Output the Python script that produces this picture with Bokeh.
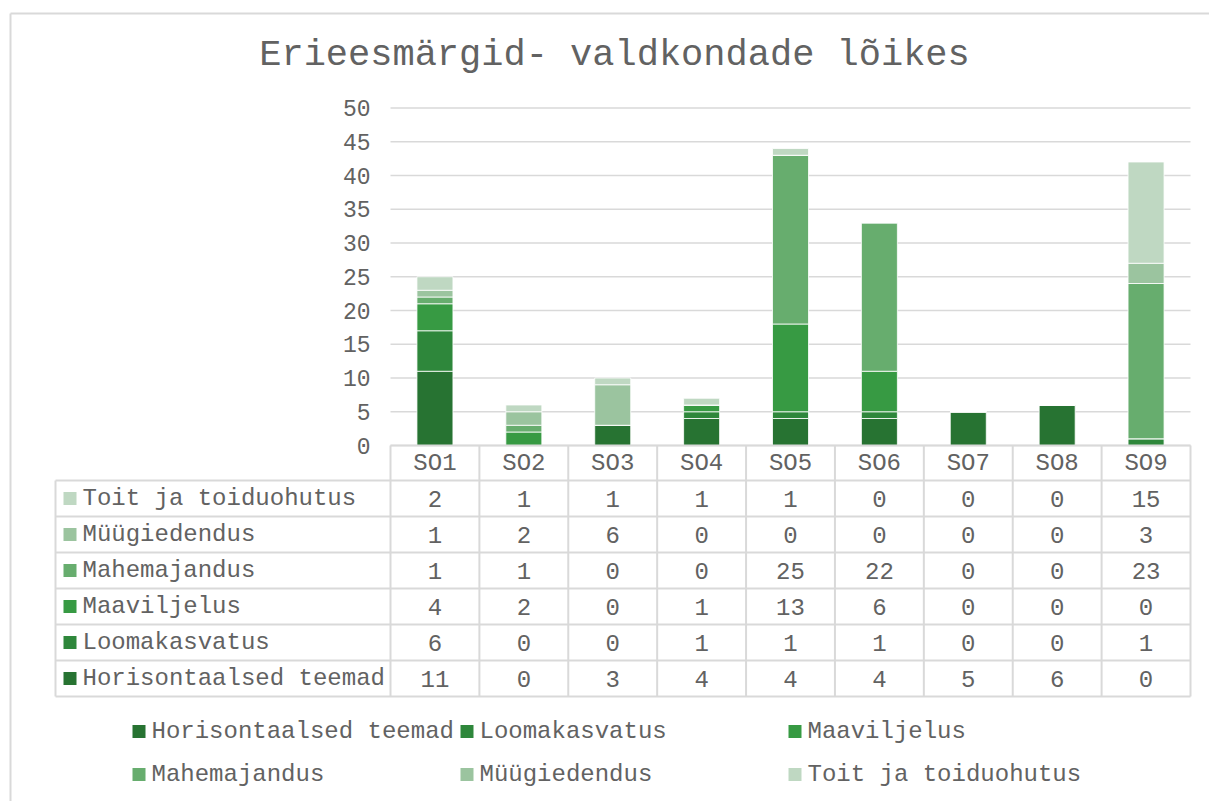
from bokeh.plotting import figure
from bokeh.models import Range1d, ColumnDataSource
from bokeh.embed import file_html
from bokeh.resources import INLINE
from bokeh.core.properties import value

# ---------------- data ----------------
title_text = "Erieesmärgid- valdkondade lõikes"
categories = ["SO1", "SO2", "SO3", "SO4", "SO5", "SO6", "SO7", "SO8", "SO9"]
series_names = ["Horisontaalsed teemad", "Loomakasvatus", "Maaviljelus",
                "Mahemajandus", "Müügiedendus", "Toit ja toiduohutus"]
horisontaalsed = [11, 0, 3, 4, 4, 4, 5, 6, 0]
loomakasvatus = [6, 0, 0, 1, 1, 1, 0, 0, 1]
maaviljelus = [4, 2, 0, 1, 13, 6, 0, 0, 0]
mahemajandus = [1, 1, 0, 0, 25, 22, 0, 0, 23]
myygiedendus = [1, 2, 6, 0, 0, 0, 0, 0, 3]
toit = [2, 1, 1, 1, 1, 0, 0, 0, 15]
series_colors = ["#277332", "#2E873B", "#379A43", "#67AD6E", "#9BC49F", "#BFD8C2"]
y_ticks = [0, 5, 10, 15, 20, 25, 30, 35, 40, 45, 50]

series_values = [horisontaalsed, loomakasvatus, maaviljelus, mahemajandus, myygiedendus, toit]

# ---------------- geometry (page pixels) ----------------
OFF = 0
W, H = 1209, 801
PLOT_L, PLOT_R = 390, 1190
Y0_PX, YMAX_PX = 445, 107.5
YMAX = 50
n = len(categories)
unit = (PLOT_R - PLOT_L) / n
ppu = (Y0_PX - YMAX_PX) / YMAX

x_start = (OFF - PLOT_L) / unit
x_end = (OFF + W - PLOT_L) / unit
y_end = (Y0_PX - OFF) / ppu
y_start = (Y0_PX - (OFF + H)) / ppu

FONT = value("Liberation Mono")
TXT = "#626262"
GRID = "#D9D9D9"

p = figure(width=W, height=H, output_backend="svg", toolbar_location=None,
           x_range=Range1d(x_start, x_end), y_range=Range1d(y_start, y_end),
           x_axis_type=None, y_axis_type=None, min_border=0)
p.extra_x_ranges = {"px": Range1d(OFF, OFF + W)}
p.extra_y_ranges = {"px": Range1d(OFF + H, OFF)}
p.outline_line_color = None
p.xgrid.visible = False
p.ygrid.visible = False
p.background_fill_color = "white"
p.border_fill_color = "white"

# chart border (top & left visible)
p.segment(x0=[10, 10], y0=[13, 13], x1=[OFF + W, 10], y1=[13, OFF + H],
          x_range_name="px", y_range_name="px", line_color=GRID, line_width=2)

# title
p.text(x=[614], y=[54], text=[title_text], x_range_name="px", y_range_name="px",
       text_font=FONT, text_font_size="37px", text_color=TXT,
       text_align="center", text_baseline="middle")

# horizontal gridlines
p.segment(x0=[0] * len(y_ticks), x1=[n] * len(y_ticks), y0=y_ticks, y1=y_ticks,
          line_color=GRID, line_width=1.5)

# y tick labels
p.text(x=[370] * len(y_ticks), y=y_ticks, text=[str(t) for t in y_ticks],
       x_range_name="px", text_font=FONT, text_font_size="23px", text_color=TXT,
       text_align="right", text_baseline="middle")

# stacked bars
keys = ["s%d" % i for i in range(len(series_names))]
data = {"x": [i + 0.5 for i in range(n)], "cat": categories}
for k, vals in zip(keys, series_values):
    data[k] = vals
src = ColumnDataSource(data)
p.vbar_stack(keys, x="x", width=0.405, color=series_colors, source=src,
             line_color="white", line_width=0.8)

# ---------------- data table ----------------
HDR_TOP, HDR_BOT = 445, 480
ROW_H = 36
TBL_L = 55
rows = len(series_names)
row_lines = [HDR_BOT + ROW_H * r for r in range(rows + 1)]
tbl_bot = row_lines[-1]

# horizontal lines
p.segment(x0=[PLOT_L], x1=[PLOT_R], y0=[HDR_TOP], y1=[HDR_TOP],
          x_range_name="px", y_range_name="px", line_color=GRID, line_width=2)
p.segment(x0=[TBL_L] * len(row_lines), x1=[PLOT_R] * len(row_lines),
          y0=row_lines, y1=row_lines,
          x_range_name="px", y_range_name="px", line_color=GRID, line_width=2)
# vertical lines
p.segment(x0=list(range(n + 1)), x1=list(range(n + 1)),
          y0=[HDR_TOP] * (n + 1), y1=[tbl_bot] * (n + 1),
          y_range_name="px", line_color=GRID, line_width=2)
p.segment(x0=[TBL_L], x1=[TBL_L], y0=[HDR_BOT], y1=[tbl_bot],
          x_range_name="px", y_range_name="px", line_color=GRID, line_width=2)

# header labels
p.text(x=[i + 0.5 for i in range(n)], y=[(HDR_TOP + HDR_BOT) / 2] * n, text=categories,
       y_range_name="px", text_font=FONT, text_font_size="24px", text_color=TXT,
       text_align="center", text_baseline="middle")

# rows (top row = last series)
for r in range(rows):
    si = rows - 1 - r
    cy = HDR_BOT + ROW_H * r + ROW_H / 2
    p.rect(x=[69.5], y=[cy], width=13, height=13, x_range_name="px", y_range_name="px",
           fill_color=series_colors[si], line_color=None)
    p.text(x=[82], y=[cy], text=[series_names[si]], x_range_name="px", y_range_name="px",
           text_font=FONT, text_font_size="24px", text_color=TXT,
           text_align="left", text_baseline="middle")
    p.text(x=[i + 0.5 for i in range(n)], y=[cy] * n, text=[str(v) for v in series_values[si]],
           y_range_name="px", text_font=FONT, text_font_size="24px", text_color=TXT,
           text_align="center", text_baseline="middle")

# ---------------- legend ----------------
leg_x = [132, 460, 788]
leg_y = [731, 774]
for idx, name in enumerate(series_names):
    lx = leg_x[idx % 3]
    ly = leg_y[idx // 3]
    p.rect(x=[lx + 6.5], y=[ly], width=13, height=13, x_range_name="px", y_range_name="px",
           fill_color=series_colors[idx], line_color=None)
    p.text(x=[lx + 19], y=[ly], text=[name], x_range_name="px", y_range_name="px",
           text_font=FONT, text_font_size="24px", text_color=TXT,
           text_align="left", text_baseline="middle")

open("out.html", "w").write(file_html(p, INLINE))
